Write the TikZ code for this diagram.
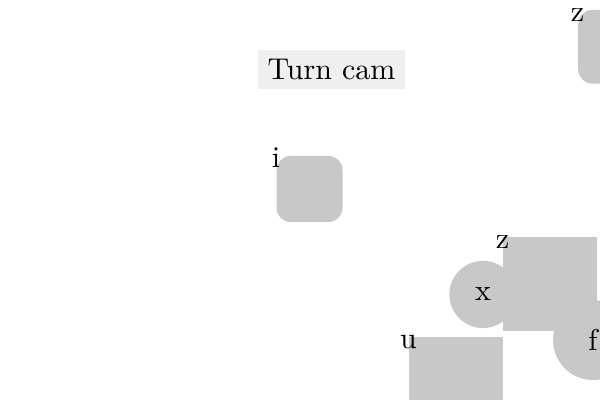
\documentclass[tikz,border=0pt]{standalone}
\usepackage{amsmath,amssymb}
\usepackage{tikz}
\usetikzlibrary{shapes,positioning}

\definecolor{blockgray}{RGB}{200,200,200}
\definecolor{tagbg}{RGB}{239,239,239}

\begin{document}
\begin{tikzpicture}[every node/.style={font=\fontsize{10.7}{12.8}\selectfont}, every label/.style={anchor=base, inner sep=0pt, yshift=-4.2pt}]
                    \useasboundingbox (0,0) rectangle (7.5,5);
                    \clip (0,0) rectangle (7.5,5);
                    \node[rectangle, fill=tagbg, inner sep=3.33pt] (cam) at (4.144,4.131) {Turn cam};
                    \node[rectangle, rounded corners=5pt, fill=blockgray, minimum size=0.825cm, label={north west:i}] (ibox) at (3.869,2.6375) {};
                    \node[rectangle, rounded corners=5pt, fill=blockgray, minimum size=0.92cm, label={north west:z}] (ztop) at (7.6875,4.415) {};
                    \node[circle, fill=blockgray, minimum size=0.84cm, inner sep=0pt] (x) at (6.0375,1.319) {x};
                    \node[rectangle, fill=blockgray, minimum size=1.175cm, label={north west:z}] (zsq) at (6.875,1.444) {};
                    \node[rectangle, fill=blockgray, minimum size=1.175cm, label={north west:u}] (usq) at (5.7,0.2) {};
                    \node[circle, fill=blockgray, minimum size=1.0cm, inner sep=0pt] (f) at (7.4125,0.75) {f};
                \end{tikzpicture}
\end{document}
